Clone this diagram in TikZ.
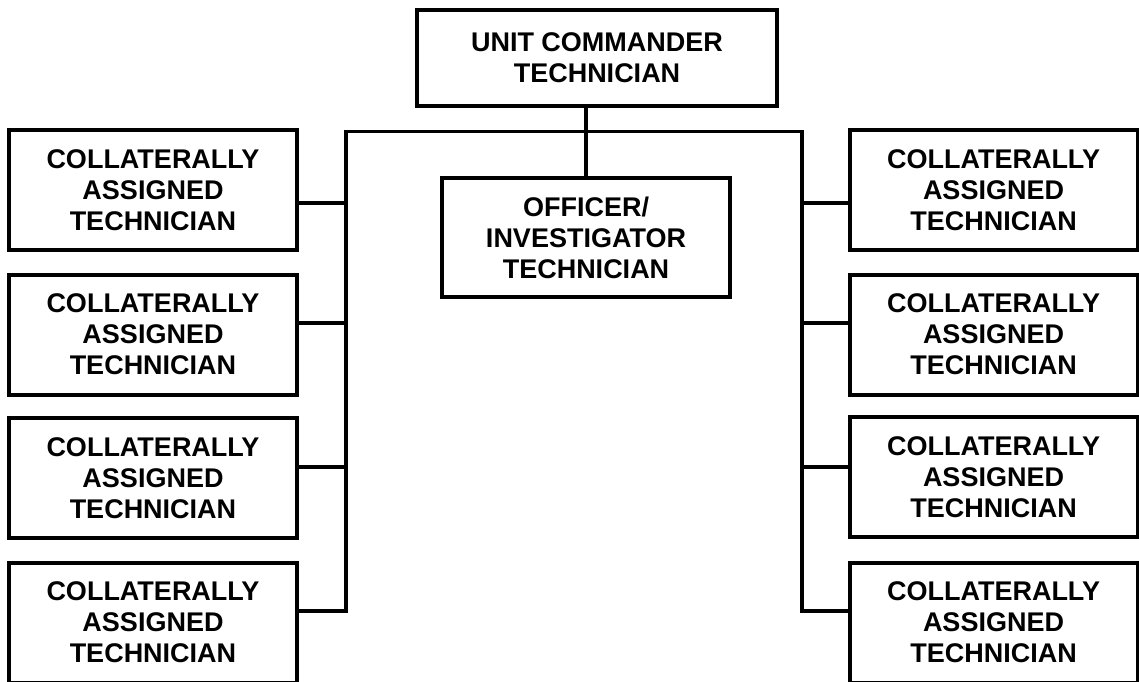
\documentclass[tikz,border=0pt]{standalone}
\usepackage{fontspec}
\setmainfont{Liberation Sans}
\begin{document}
\begin{tikzpicture}[x=1pt,y=-1pt,
  box/.style={draw=black, line width=4pt, rectangle, align=center, inner sep=0pt,
    font=\fontsize{27}{31}\selectfont\bfseries},
  collat/.style={box, minimum width=288pt, minimum height=120pt},
  link/.style={draw=black, line width=3.2pt, line join=miter}]
\useasboundingbox (0,0) rectangle (1139,681);
\node[box, minimum width=360pt, minimum height=96pt] (T) at (597,58) {UNIT COMMANDER\\TECHNICIAN};
\node[box, minimum width=288pt, minimum height=119pt] (O) at (586,237.5) {OFFICER/\\INVESTIGATOR\\TECHNICIAN};
\node[collat] (L1) at (153,190) {COLLATERALLY\\ASSIGNED\\TECHNICIAN};
\node[collat] (L2) at (153,334.5) {COLLATERALLY\\ASSIGNED\\TECHNICIAN};
\node[collat] (L3) at (153,478) {COLLATERALLY\\ASSIGNED\\TECHNICIAN};
\node[collat] (L4) at (153,622.5) {COLLATERALLY\\ASSIGNED\\TECHNICIAN};
\node[collat] (R1) at (993.5,190) {COLLATERALLY\\ASSIGNED\\TECHNICIAN};
\node[collat] (R2) at (993.5,334.5) {COLLATERALLY\\ASSIGNED\\TECHNICIAN};
\node[collat] (R3) at (993.5,477) {COLLATERALLY\\ASSIGNED\\TECHNICIAN};
\node[collat] (R4) at (993.5,622.5) {COLLATERALLY\\ASSIGNED\\TECHNICIAN};
\coordinate (bl) at (346,131.5);
\coordinate (br) at (802,131.5);
\coordinate (l1) at (346,203);
\coordinate (l2) at (346,323);
\coordinate (l3) at (346,467);
\coordinate (l4) at (346,611);
\coordinate (r1) at (802,203);
\coordinate (r2) at (802,323);
\coordinate (r3) at (802,467);
\coordinate (r4) at (802,611);
\draw[link] (O.north) -- (O.north |- T.south);
\draw[link] (L4.east |- l4) -- (l4) -- (bl) -- (br) -- (r4) -- (R4.west |- r4);
\draw[link] (L1.east |- l1) -- (l1);
\draw[link] (L2.east |- l2) -- (l2);
\draw[link] (L3.east |- l3) -- (l3);
\draw[link] (R1.west |- r1) -- (r1);
\draw[link] (R2.west |- r2) -- (r2);
\draw[link] (R3.west |- r3) -- (r3);
\end{tikzpicture}
\end{document}
